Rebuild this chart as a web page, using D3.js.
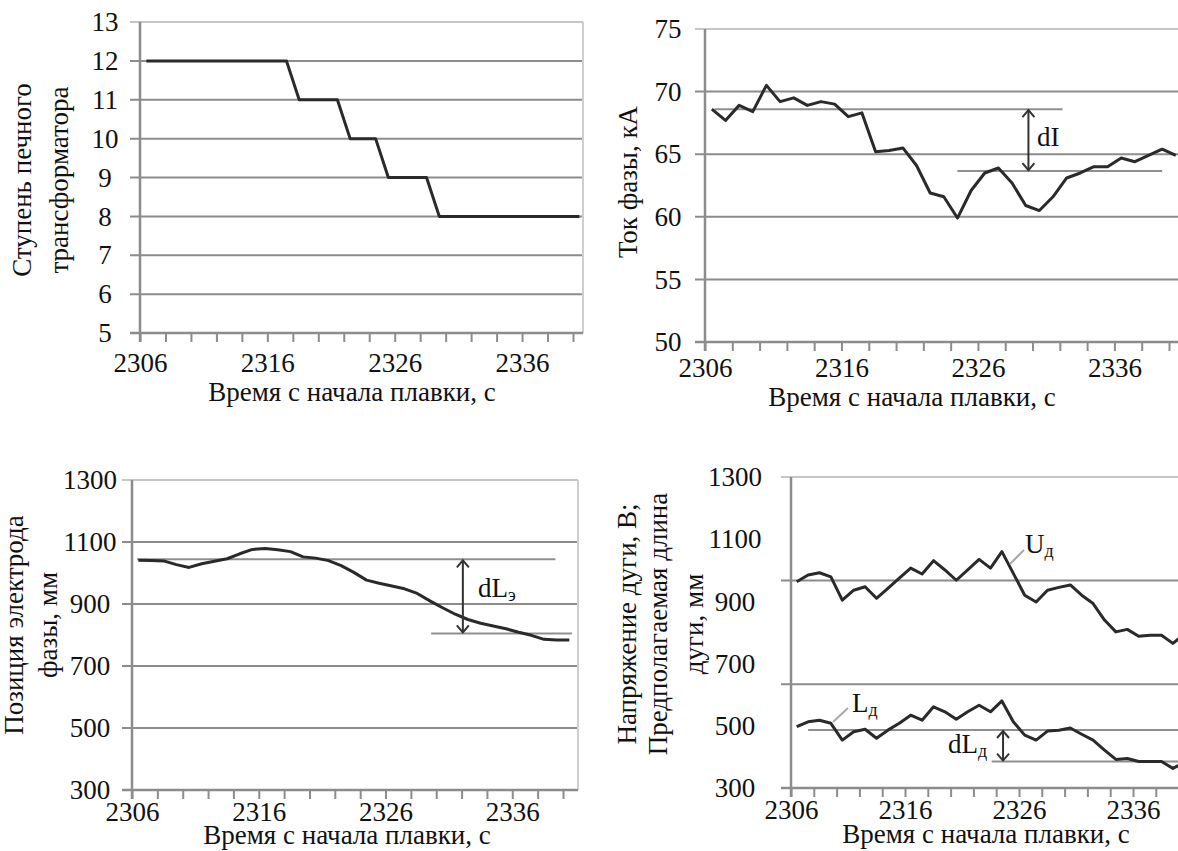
<!DOCTYPE html>
<html>
<head>
<meta charset="utf-8">
<script src="https://cdn.jsdelivr.net/npm/d3@7"></script>
<style>
  body { margin: 0; background: #fff; }
  svg { display: block; }
  text { font-family: "Liberation Serif", "Times New Roman", serif; fill: #111; }
</style>
</head>
<body>
<svg id="chart" width="1178" height="851"></svg>
<script>
  // one sample per second, plotted at the middle of each second
  const seconds = [2306, 2307, 2308, 2309, 2310, 2311, 2312, 2313, 2314, 2315, 2316, 2317,
    2318, 2319, 2320, 2321, 2322, 2323, 2324, 2325, 2326, 2327, 2328, 2329, 2330, 2331,
    2332, 2333, 2334, 2335, 2336, 2337, 2338, 2339, 2340];
  const xTickLabels = [2306, 2316, 2326, 2336];

  const tapStep = [12, 12, 12, 12, 12, 12, 12, 12, 12, 12, 12, 12, 11, 11, 11, 11, 10, 10,
    10, 9, 9, 9, 9, 8, 8, 8, 8, 8, 8, 8, 8, 8, 8, 8, 8];
  const phaseCurrent = [68.6, 67.7, 68.9, 68.4, 70.5, 69.2, 69.5, 68.9, 69.2, 69.0, 68.0,
    68.3, 65.2, 65.3, 65.5, 64.1, 61.9, 61.6, 59.9, 62.1, 63.5, 63.9, 62.7, 60.9, 60.5,
    61.6, 63.1, 63.5, 64.0, 64.0, 64.7, 64.4, 64.9, 65.4, 64.9];
  const electrodePos = [1041, 1040, 1039, 1027, 1018, 1030, 1038, 1046, 1062, 1076, 1079,
    1075, 1069, 1052, 1048, 1040, 1024, 1002, 977, 967, 958, 949, 934, 910, 888, 867, 850,
    838, 829, 820, 809, 799, 786, 784, 784];
  const arcVoltage = [963, 985, 992, 979, 904, 936, 947, 910, 942, 975, 1007, 988, 1031,
    1001, 968, 1001, 1035, 1007, 1060, 990, 920, 898, 936, 945, 953, 920, 893, 840, 802,
    810, 788, 791, 791, 765, 795];
  const arcLength = [497, 513, 518, 508, 454, 481, 489, 460, 486, 508, 534, 518, 561, 545,
    521, 545, 566, 545, 580, 513, 470, 454, 483, 486, 493, 473, 454, 422, 392, 395, 385,
    385, 385, 363, 382];

  const tapTicks = [5, 6, 7, 8, 9, 10, 11, 12, 13];
  const currentTicks = [50, 55, 60, 65, 70, 75];
  const mmTicks = [300, 500, 700, 900, 1100, 1300];
  const arcGrid = [634, 967, 1300];

  // reference levels: value, from second, to second
  const currentRefs = [[68.6, 2306.7, 2332.2], [63.65, 2324.5, 2339.5]];
  const electrodeRefs = [[1044, 2306.4, 2339.4], [805, 2329.6, 2340.7]];
  const arcRefs = [[486.5, 2307.5, 2345], [385, 2323.6, 2345]];

  const FONT = '"Liberation Serif", "Times New Roman", serif';
  const FS = "27px";

  const svg = d3.select("#chart");
  svg.append("rect").attr("width", 1178).attr("height", 851).attr("fill", "#fff");

  const gridColor = "#8c8c8c";
  const lineColor = "#2a2a2a";

  function drawPanel(p) {
    const g = svg.append("g");
    const x = d3.scaleLinear().domain([2306, 2340]).range([p.x0, p.x1]);
    const y = d3.scaleLinear().domain(p.yDomain).range([p.yBottom, p.yTop]);
    const top = p.yDomain[1];

    // horizontal grid
    g.selectAll("line.grid").data(p.grid).join("line")
      .attr("class", "grid")
      .attr("x1", p.x0 - 10).attr("x2", p.right)
      .attr("y1", d => y(d)).attr("y2", d => y(d))
      .attr("stroke", d => d === top ? "#c6c6c6" : gridColor)
      .attr("stroke-width", 2);

    if (p.border) {
      g.append("line")
        .attr("x1", p.right).attr("x2", p.right)
        .attr("y1", p.yTop).attr("y2", p.yBottom)
        .attr("stroke", "#cfcfcf").attr("stroke-width", 2);
    }

    // x axis
    const xAxis = g.append("g")
      .attr("transform", `translate(0,${p.yBottom})`)
      .call(d3.axisBottom(x)
        .tickValues(d3.range(2306, 2341, 2))
        .tickSize(9)
        .tickSizeOuter(0)
        .tickPadding(p.xPad)
        .tickFormat(d => xTickLabels.includes(d) ? d : ""));
    xAxis.attr("font-family", null).attr("font-size", null);
    xAxis.select(".domain").remove();
    xAxis.selectAll(".tick line").attr("stroke", gridColor).attr("stroke-width", 2);
    xAxis.selectAll(".tick text")
      .style("font-family", FONT).style("font-size", FS).attr("fill", "#111");
    g.append("line")
      .attr("x1", p.x0 - 10).attr("x2", p.right)
      .attr("y1", p.yBottom).attr("y2", p.yBottom)
      .attr("stroke", gridColor).attr("stroke-width", 2.5);

    // y axis
    const yAxis = g.append("g")
      .attr("transform", `translate(${p.x0},0)`)
      .call(d3.axisLeft(y).tickValues(p.yTicks).tickSize(0).tickSizeOuter(0)
        .tickFormat(d3.format("d")));
    yAxis.attr("font-family", null).attr("font-size", null);
    yAxis.select(".domain").remove();
    yAxis.selectAll(".tick text")
      .attr("x", p.yLabelX - p.x0)
      .attr("text-anchor", "middle")
      .style("font-family", FONT).style("font-size", FS).attr("fill", "#111");
    g.append("line")
      .attr("x1", p.x0).attr("x2", p.x0)
      .attr("y1", p.yTop).attr("y2", p.yBottom + 9)
      .attr("stroke", gridColor).attr("stroke-width", 2.5);

    // titles
    p.yTitle.forEach((t, i) => {
      g.append("text")
        .attr("transform", `translate(${p.yTitleX[i]},${p.yTitleY}) rotate(-90)`)
        .attr("text-anchor", "middle")
        .style("font-size", FS)
        .text(t);
    });
    g.append("text")
      .attr("x", p.xTitleX).attr("y", p.xTitleY)
      .attr("text-anchor", "middle")
      .style("font-size", FS)
      .text("Время с начала плавки, с");

    // reference levels
    g.selectAll("line.ref").data(p.refs || []).join("line")
      .attr("class", "ref")
      .attr("x1", d => x(d[1])).attr("x2", d => Math.min(x(d[2]), p.right))
      .attr("y1", d => y(d[0])).attr("y2", d => y(d[0]))
      .attr("stroke", "#8f8f8f").attr("stroke-width", 2);

    // series
    const line = d3.line()
      .x((d, i) => x(seconds[i] + 0.5))
      .y(d => y(d));
    p.series.forEach(s => {
      g.append("path")
        .datum(s)
        .attr("fill", "none")
        .attr("stroke", lineColor)
        .attr("stroke-width", 3)
        .attr("stroke-linejoin", "round")
        .attr("d", line);
    });

    return { g, x, y };
  }

  function arrow(g, xp, ya, yb) {
    g.append("line")
      .attr("x1", xp).attr("x2", xp).attr("y1", ya + 1).attr("y2", yb - 1)
      .attr("stroke", "#333").attr("stroke-width", 2);
    g.append("path")
      .attr("d", `M${xp - 6},${ya + 8}L${xp},${ya + 1}L${xp + 6},${ya + 8}` +
                 `M${xp - 6},${yb - 8}L${xp},${yb - 1}L${xp + 6},${yb - 8}`)
      .attr("fill", "none").attr("stroke", "#333").attr("stroke-width", 2);
  }

  function subLabel(g, xp, yp, main, sub) {
    const t = g.append("text").attr("x", xp).attr("y", yp).style("font-size", FS);
    t.append("tspan").text(main);
    t.append("tspan").attr("dy", 4).style("font-size", "18px").text(sub);
  }

  // 1: transformer tap
  drawPanel({
    x0: 140, x1: 573, right: 583, border: true,
    yDomain: [5, 13], yBottom: 333, yTop: 22,
    grid: tapTicks.slice(1), yTicks: tapTicks, yLabelX: 105,
    yTitle: ["Ступень печного", "трансформатора"], yTitleX: [31, 68], yTitleY: 180,
    xTitleX: 352, xTitleY: 401, xPad: 11,
    series: [tapStep]
  });

  // 2: phase current
  const p2 = drawPanel({
    x0: 705, x1: 1169, right: 1178, border: false,
    yDomain: [50, 75], yBottom: 342, yTop: 29,
    grid: currentTicks.slice(1), yTicks: currentTicks, yLabelX: 668,
    yTitle: ["Ток фазы, кА"], yTitleX: [637], yTitleY: 182,
    xTitleX: 912, xTitleY: 406, xPad: 7,
    refs: currentRefs, series: [phaseCurrent]
  });
  arrow(p2.g, p2.x(2329.7), p2.y(currentRefs[0][0]), p2.y(currentRefs[1][0]));
  p2.g.append("text").attr("x", 1037).attr("y", 146).style("font-size", FS).text("dI");

  // 3: electrode position
  const p3 = drawPanel({
    x0: 132, x1: 563, right: 578, border: true,
    yDomain: [300, 1300], yBottom: 790, yTop: 480,
    grid: mmTicks.slice(1), yTicks: mmTicks, yLabelX: 90,
    yTitle: ["Позиция электрода", "фазы, мм"], yTitleX: [23, 57], yTitleY: 625,
    xTitleX: 347, xTitleY: 844, xPad: 3,
    refs: electrodeRefs, series: [electrodePos]
  });
  arrow(p3.g, p3.x(2332.1), p3.y(electrodeRefs[0][0]), p3.y(electrodeRefs[1][0]));
  subLabel(p3.g, 478, 597, "dL", "э");

  // 4: arc voltage and estimated arc length
  const p4 = drawPanel({
    x0: 791, x1: 1178.6, right: 1178, border: false,
    yDomain: [300, 1300], yBottom: 788, yTop: 477,
    grid: arcGrid, yTicks: mmTicks, yLabelX: 735,
    yTitle: ["Напряжение дуги, В;", "Предполагаемая длина", "дуги, мм"],
    yTitleX: [636, 667, 703], yTitleY: 624,
    xTitleX: 986, xTitleY: 843, xPad: 3,
    refs: arcRefs, series: [arcVoltage, arcLength]
  });
  arrow(p4.g, p4.x(2324.6), p4.y(arcRefs[0][0]), p4.y(arcRefs[1][0]));
  subLabel(p4.g, 1025, 553, "U", "д");
  subLabel(p4.g, 852, 712, "L", "д");
  subLabel(p4.g, 948, 753, "dL", "д");
  p4.g.append("line").attr("x1", 1010).attr("y1", 564).attr("x2", 1024).attr("y2", 550)
    .attr("stroke", "#a8a8a8").attr("stroke-width", 2);
  p4.g.append("line").attr("x1", 833).attr("y1", 722).attr("x2", 848).attr("y2", 708)
    .attr("stroke", "#a8a8a8").attr("stroke-width", 2);
</script>
</body>
</html>
